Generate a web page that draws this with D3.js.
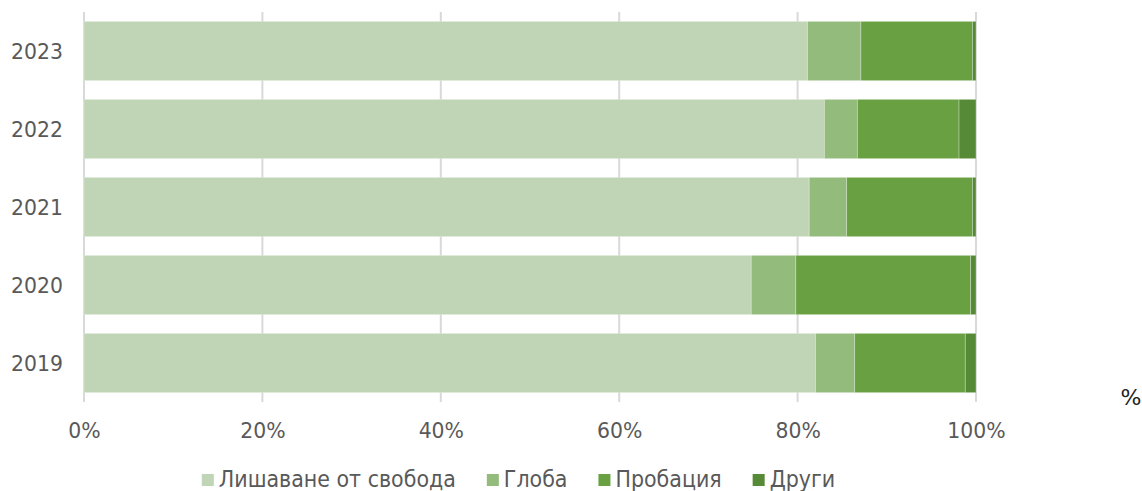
<!DOCTYPE html>
<html>
<head>
<meta charset="utf-8">
<script src="https://cdn.jsdelivr.net/npm/d3@7"></script>
<style>
  html, body { margin: 0; padding: 0; background: #fff; }
  svg { display: block; }
  text { font-family: "DejaVu Sans", Verdana, sans-serif; fill: #595959; }
</style>
</head>
<body>
<svg id="chart" width="1142" height="491"></svg>
<script>
const years = ["2019", "2020", "2021", "2022", "2023"];
const seriesNames = ["Лишаване от свобода", "Глоба", "Пробация", "Други"];
const lishavane = [82.0, 74.8, 81.3, 83.0, 81.1];
const globa = [4.4, 5.0, 4.2, 3.7, 6.0];
const probacia = [12.4, 19.6, 14.1, 11.4, 12.5];
const drugi = [1.2, 0.6, 0.4, 1.9, 0.4];
const xTicks = [0, 20, 40, 60, 80, 100];
const colors = ["#bfd5b5", "#93bb7c", "#69a142", "#578a37"];

(function () {
const seriesValues = [lishavane, globa, probacia, drugi];
const rows = years.map((yr, i) => {
  const r = { year: yr };
  seriesNames.forEach((s, k) => r[s] = seriesValues[k][i]);
  return r;
});

const svg = d3.select("#chart");
const pLeft = 84, pRight = 976, pTop = 12, pBottom = 402;
const stretch = "scale(1,1.08)";

const x = d3.scaleLinear().domain([0, 100]).range([pLeft, pRight]);
const y = d3.scaleBand().domain(years.slice().reverse()).range([pTop, pBottom])
  .paddingInner(0.24).paddingOuter(0.12);

// gridlines
svg.append("g").selectAll("line").data(xTicks).join("line")
  .attr("x1", d => x(d)).attr("x2", d => x(d))
  .attr("y1", pTop).attr("y2", pBottom)
  .attr("stroke", "#d9d9d9").attr("stroke-width", 2);

const stacked = d3.stack().keys(seriesNames)(rows);

svg.append("g").selectAll("g").data(stacked).join("g")
  .attr("fill", (d, i) => colors[i])
  .selectAll("rect").data(d => d).join("rect")
  .attr("x", d => x(d[0]))
  .attr("width", d => x(d[1]) - x(d[0]))
  .attr("y", d => y(d.data.year))
  .attr("height", y.bandwidth())
  .attr("stroke", "#ffffff").attr("stroke-opacity", 0.35).attr("stroke-width", 0.8);

// y axis labels
const yAxis = d3.axisLeft(y).tickSize(0).tickPadding(0);
const yg = svg.append("g").attr("transform", "translate(63,0)").call(yAxis);
yg.select(".domain").remove();
yg.selectAll("text").attr("font-size", 20.4).style("fill", "#595959")
  .attr("font-family", "DejaVu Sans, Verdana, sans-serif")
  .attr("x", 0).attr("dy", "0.34em").attr("transform", stretch);

// x axis labels
const xAxis = d3.axisBottom(x).tickValues(xTicks).tickFormat(d => d + "%").tickSize(0).tickPadding(0);
const xg = svg.append("g").attr("transform", "translate(0,438)").call(xAxis);
xg.select(".domain").remove();
xg.selectAll("text").attr("font-size", 20.4).style("fill", "#595959")
  .attr("font-family", "DejaVu Sans, Verdana, sans-serif")
  .attr("dy", 0).attr("y", 0).attr("transform", stretch);

// % label
svg.append("text").attr("x", 1131).attr("y", 405).attr("text-anchor", "middle")
  .attr("font-family", "Liberation Serif, Times New Roman, serif")
  .attr("font-size", 22).style("fill", "#222").text("%");

// legend
const lg = svg.append("g");
const items = lg.selectAll("g").data(seriesNames).join("g");
items.append("rect").attr("width", 12).attr("height", 12).attr("y", 474)
  .attr("fill", (d, i) => colors[i]);
items.append("text").attr("transform", "translate(17,487) " + stretch)
  .attr("font-size", 20.6)
  .style("fill", "#595959").text(d => d);
let cx = 0;
const offs = [];
items.each(function () {
  const w = d3.select(this).select("text").node().getComputedTextLength();
  offs.push(cx);
  cx += 17 + w + 31;
});
const total = cx - 31;
const startX = 518.5 - total / 2;
items.attr("transform", (d, i) => `translate(${startX + offs[i]},0)`);
})();
</script>
</body>
</html>
